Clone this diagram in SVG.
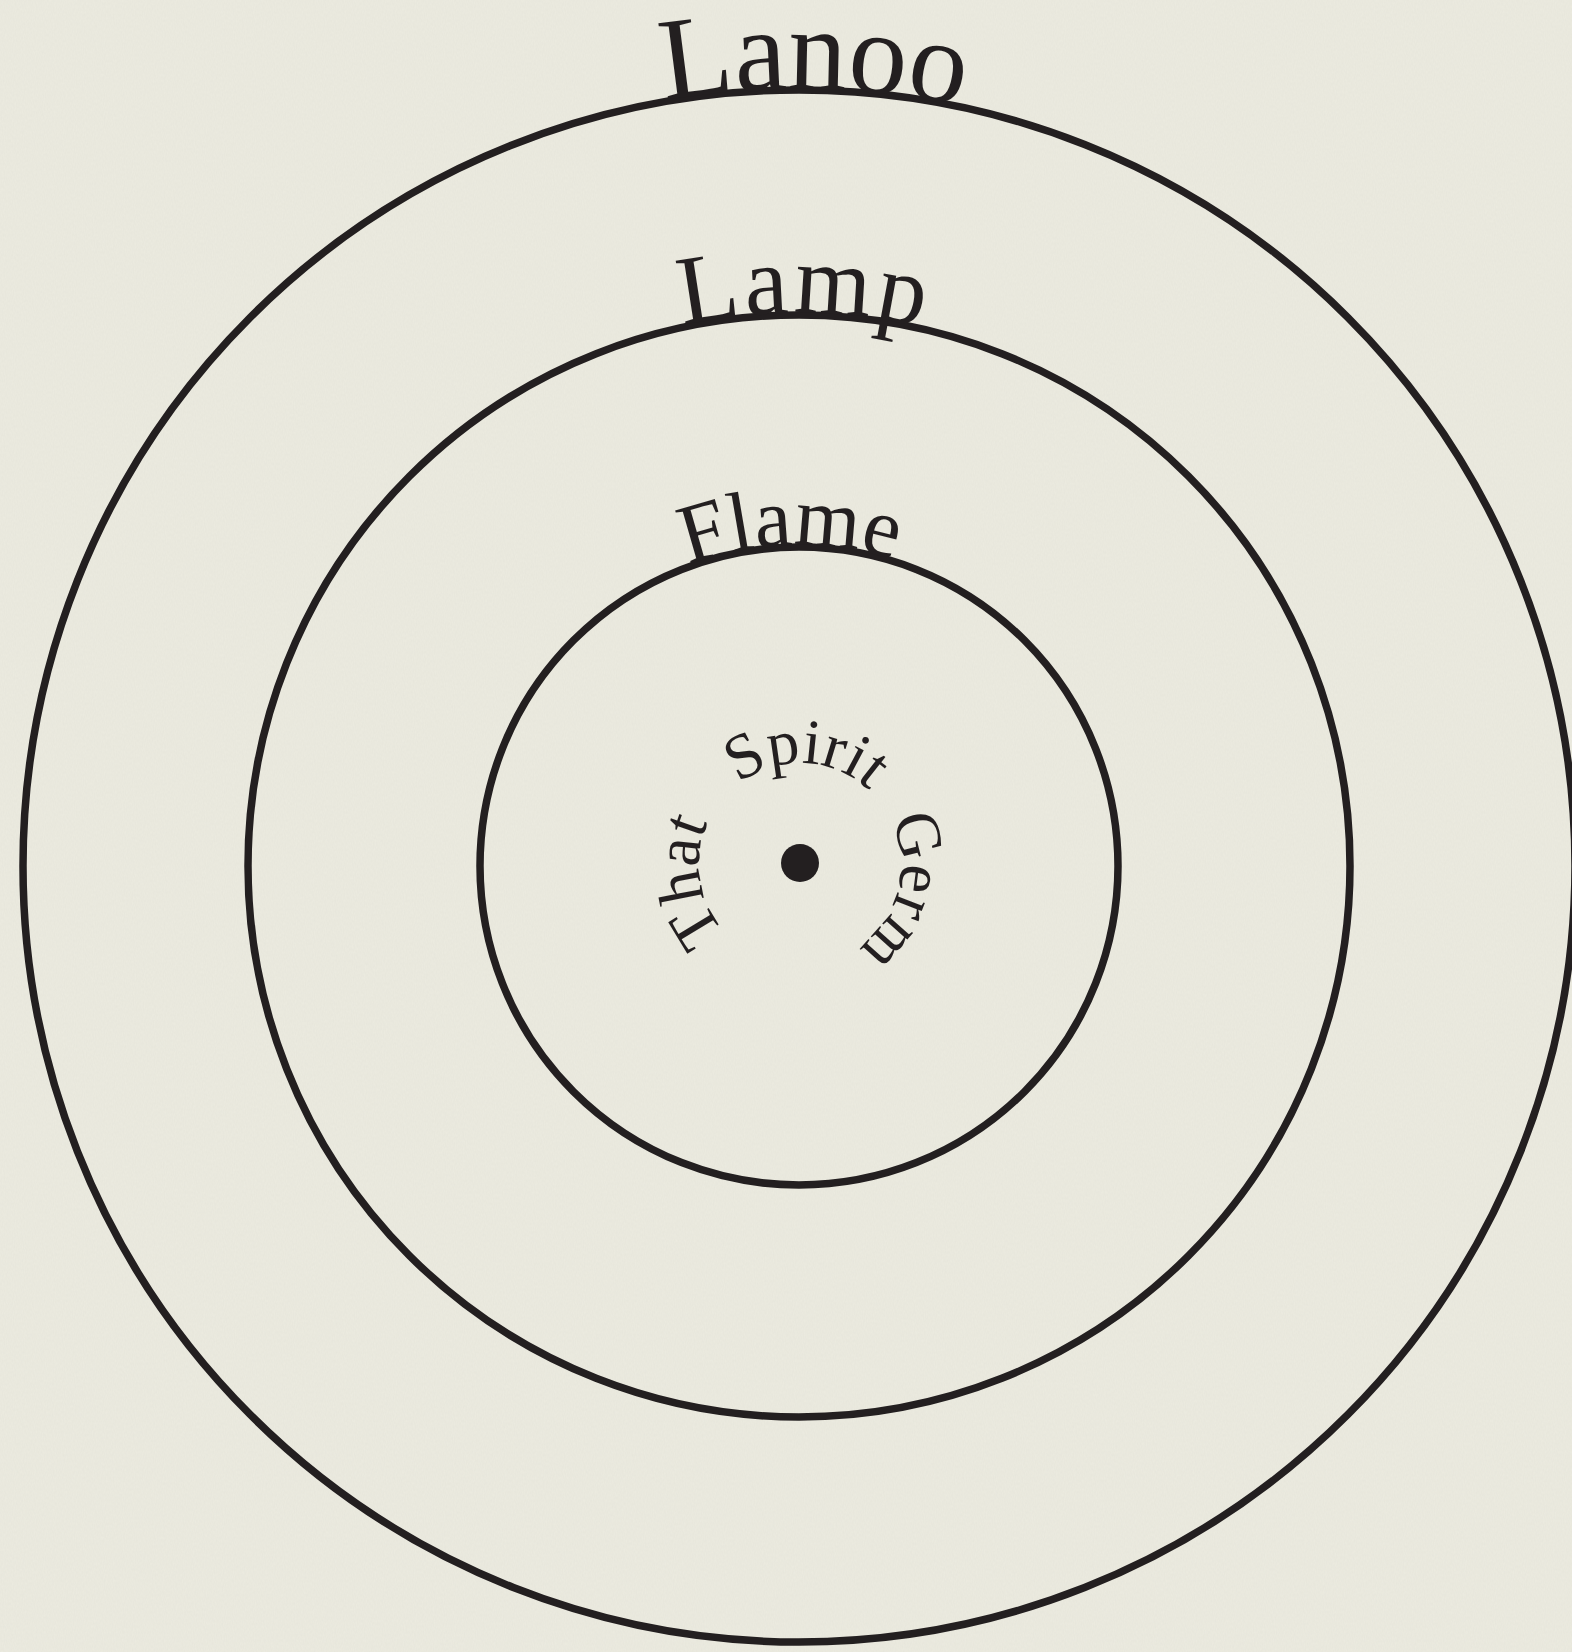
<svg xmlns="http://www.w3.org/2000/svg" width="1572" height="1652" viewBox="0 0 1572 1652">
<defs>
<style>
.ring{fill:none;stroke:#231f20;stroke-width:7.5}
.lbl{font-family:"Liberation Serif","Times New Roman",serif;fill:#231f20}
</style>
<filter id="paper" x="0" y="0" width="100%" height="100%">
<feTurbulence type="fractalNoise" baseFrequency="0.9 0.35" numOctaves="2" seed="3" result="n"/>
<feColorMatrix in="n" type="matrix" values="0 0 0 0 0.55  0 0 0 0 0.55  0 0 0 0 0.5  0 0 0 0.14 0"/>
</filter>
<path id="pOuter" d="M 22,866 A 777,777 0 0 1 1576,866"/>
<path id="pMid" d="M 246,866 A 553,553 0 0 1 1352,866"/>
<path id="pInner" d="M 478,866 A 321,321 0 0 1 1120,866"/>
<path id="pCore" d="M 800,965 A 101,101 0 0 1 800,763 A 101,101 0 0 1 800,965"/>
</defs>
<rect width="1572" height="1652" fill="#ecebe0"/>
<rect width="1572" height="1652" filter="url(#paper)"/>
<g id="ring-lanoo">
<circle class="ring" cx="799" cy="866" r="776"/>
<text class="lbl" font-size="117"><textPath href="#pOuter" startOffset="50.6%" text-anchor="middle">Lanoo</textPath></text>
</g>
<g id="ring-lamp">
<circle class="ring" cx="799" cy="866" r="551"/>
<text class="lbl" font-size="98" letter-spacing="4"><textPath href="#pMid" startOffset="50.3%" text-anchor="middle">Lamp</textPath></text>
</g>
<g id="ring-flame">
<circle class="ring" cx="799" cy="866" r="319"/>
<text class="lbl" font-size="84"><textPath href="#pInner" startOffset="49.2%" text-anchor="middle">Flame</textPath></text>
</g>
<g id="core">
<circle cx="800" cy="863" r="19" fill="#231f20"/>
<text class="lbl" font-size="64"><textPath href="#pCore" startOffset="22.5%" text-anchor="middle">That</textPath></text>
<text class="lbl" font-size="64"><textPath href="#pCore" startOffset="50.8%" text-anchor="middle">Spirit</textPath></text>
<text class="lbl" font-size="64"><textPath href="#pCore" startOffset="79%" text-anchor="middle">Germ</textPath></text>
</g>
<g id="connectors"/>
</svg>
